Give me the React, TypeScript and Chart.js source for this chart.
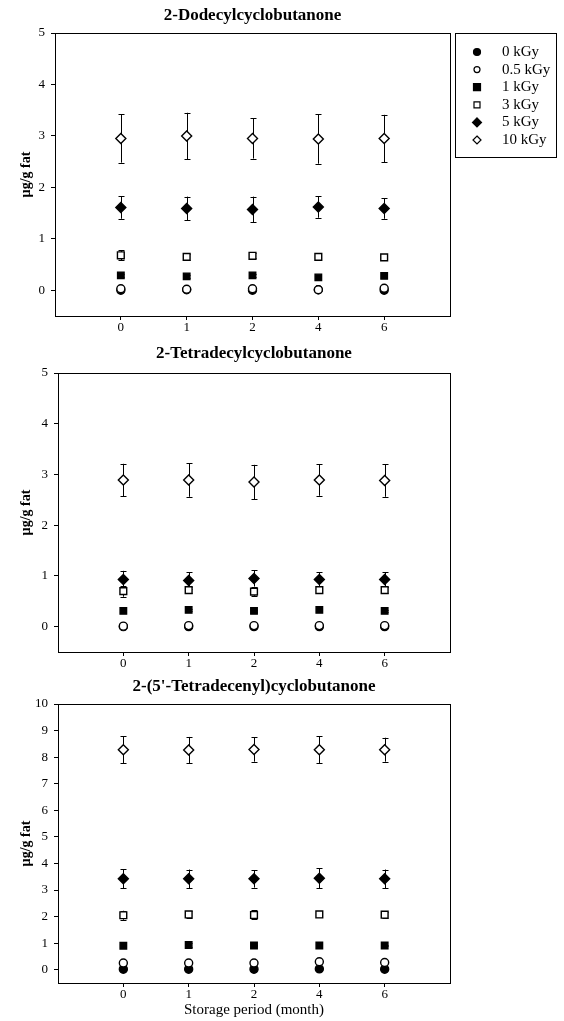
import React, { useEffect, useRef } from 'react';
import { Chart, registerables } from 'chart.js';

Chart.register(...registerables);

// ---------- data ----------
const months = ['0', '1', '2', '4', '6'];
const doses = ['0 kGy', '0.5 kGy', '1 kGy', '3 kGy', '5 kGy', '10 kGy'];

// 2-Dodecylcyclobutanone
const dodecyl0 = [0.0, 0.01, 0.0, 0.01, 0.0];
const dodecyl05 = [0.03, 0.02, 0.03, 0.01, 0.04];
const dodecyl1 = [0.29, 0.27, 0.29, 0.25, 0.28];
const dodecyl3 = [0.68, 0.65, 0.67, 0.65, 0.64];
const dodecyl5 = [1.61, 1.59, 1.57, 1.62, 1.59];
const dodecyl10 = [2.95, 3.0, 2.95, 2.94, 2.95];
const dodecylErr0 = [0.01, 0.01, 0.01, 0.01, 0.01];
const dodecylErr05 = [0.02, 0.02, 0.02, 0.01, 0.02];
const dodecylErr1 = [0.03, 0.03, 0.03, 0.02, 0.03];
const dodecylErr3 = [0.1, 0.06, 0.05, 0.03, 0.05];
const dodecylErr5 = [0.22, 0.23, 0.25, 0.21, 0.2];
const dodecylErr10 = [0.47, 0.45, 0.39, 0.48, 0.46];

// 2-Tetradecylcyclobutanone
const tetradecyl0 = [0.0, 0.0, 0.0, 0.0, 0.0];
const tetradecyl05 = [0.01, 0.02, 0.02, 0.02, 0.02];
const tetradecyl1 = [0.31, 0.33, 0.31, 0.33, 0.31];
const tetradecyl3 = [0.7, 0.72, 0.69, 0.72, 0.72];
const tetradecyl5 = [0.93, 0.91, 0.95, 0.93, 0.93];
const tetradecyl10 = [2.89, 2.89, 2.85, 2.89, 2.88];
const tetradecylErr0 = [0.0, 0.0, 0.0, 0.0, 0.0];
const tetradecylErr05 = [0.01, 0.01, 0.01, 0.01, 0.01];
const tetradecylErr1 = [0.02, 0.02, 0.02, 0.02, 0.02];
const tetradecylErr3 = [0.11, 0.06, 0.08, 0.06, 0.06];
const tetradecylErr5 = [0.17, 0.16, 0.16, 0.14, 0.14];
const tetradecylErr10 = [0.32, 0.33, 0.34, 0.31, 0.32];

// 2-(5'-Tetradecenyl)cyclobutanone
const tetradecenyl0 = [0.02, 0.02, 0.02, 0.03, 0.02];
const tetradecenyl05 = [0.25, 0.25, 0.25, 0.3, 0.27];
const tetradecenyl1 = [0.9, 0.93, 0.91, 0.91, 0.91];
const tetradecenyl3 = [2.05, 2.08, 2.06, 2.08, 2.07];
const tetradecenyl5 = [3.42, 3.42, 3.42, 3.44, 3.42];
const tetradecenyl10 = [8.28, 8.27, 8.29, 8.28, 8.28];
const tetradecenylErr0 = [0.01, 0.01, 0.01, 0.01, 0.01];
const tetradecenylErr05 = [0.02, 0.02, 0.02, 0.02, 0.02];
const tetradecenylErr1 = [0.03, 0.06, 0.03, 0.03, 0.03];
const tetradecenylErr3 = [0.17, 0.12, 0.17, 0.1, 0.12];
const tetradecenylErr5 = [0.36, 0.35, 0.33, 0.37, 0.35];
const tetradecenylErr10 = [0.5, 0.49, 0.46, 0.5, 0.45];

const yTicks5 = [0, 1, 2, 3, 4, 5];
const yTicks10 = [0, 1, 2, 3, 4, 5, 6, 7, 8, 9, 10];

// ---------- styles ----------
const FONT = "'Liberation Serif', 'Times New Roman', serif";
const markerStyles = [
  { pointStyle: 'circle', bg: '#000', r: 4 },
  { pointStyle: 'circle', bg: '#fff', r: 4 },
  { pointStyle: 'rect', bg: '#000', r: 4.6 },
  { pointStyle: 'rect', bg: '#fff', r: 4.8 },
  { pointStyle: 'rectRot', bg: '#000', r: 5 },
  { pointStyle: 'rectRot', bg: '#fff', r: 5 },
];

const errorBarPlugin = {
  id: 'errorBars',
  beforeDatasetsDraw(chart: any) {
    const ctx = chart.ctx;
    const xs = chart.scales.x;
    const ys = chart.scales.y;
    ctx.save();
    ctx.strokeStyle = '#000';
    ctx.lineWidth = 1;
    chart.data.datasets.forEach((ds: any) => {
      const errs: number[] = ds.errors || [];
      ds.data.forEach((p: any, i: number) => {
        const e = errs[i] || 0;
        if (!e) return;
        const x = Math.round(xs.getPixelForValue(p.x)) + 0.5;
        const y1 = ys.getPixelForValue(p.y + e);
        const y2 = ys.getPixelForValue(p.y - e);
        ctx.beginPath();
        ctx.moveTo(x, y1);
        ctx.lineTo(x, y2);
        ctx.moveTo(x - 3, Math.round(y1) + 0.5);
        ctx.lineTo(x + 3, Math.round(y1) + 0.5);
        ctx.moveTo(x - 3, Math.round(y2) + 0.5);
        ctx.lineTo(x + 3, Math.round(y2) + 0.5);
        ctx.stroke();
      });
    });
    ctx.restore();
  },
};

const frameBoxPlugin = {
  id: 'frameBox',
  afterDraw(chart: any) {
    const { left, right, top, bottom } = chart.chartArea;
    const ctx = chart.ctx;
    ctx.save();
    ctx.strokeStyle = '#000';
    ctx.lineWidth = 1;
    ctx.strokeRect(Math.round(left) + 0.5, Math.round(top) + 0.5, Math.round(right - left), Math.round(bottom - top));
    ctx.restore();
  },
};

function drawMarker(ctx: CanvasRenderingContext2D, style: string, bg: string, x: number, y: number, r: number) {
  ctx.beginPath();
  if (style === 'circle') {
    ctx.arc(x, y, r, 0, Math.PI * 2);
  } else if (style === 'rect') {
    ctx.rect(x - r, y - r, 2 * r, 2 * r);
  } else {
    ctx.moveTo(x, y - r);
    ctx.lineTo(x + r, y);
    ctx.lineTo(x, y + r);
    ctx.lineTo(x - r, y);
    ctx.closePath();
  }
  ctx.fillStyle = bg;
  ctx.fill();
  ctx.lineWidth = 1.2;
  ctx.strokeStyle = '#000';
  ctx.stroke();
}

const legendBoxPlugin = {
  id: 'legendBox',
  afterDraw(chart: any) {
    const ctx: CanvasRenderingContext2D = chart.ctx;
    ctx.save();
    ctx.strokeStyle = '#000';
    ctx.lineWidth = 1;
    ctx.strokeRect(455.5, 33.5, 101, 124);
    ctx.font = `15px ${FONT}`;
    ctx.textBaseline = 'middle';
    ctx.textAlign = 'left';
    const sizes = [3.5, 3, 3.5, 3, 4.5, 4];
    chart.data.datasets.forEach((ds: any, i: number) => {
      const y = 52 + i * 17.6;
      const st = markerStyles[i];
      drawMarker(ctx, st.pointStyle, st.bg, 477, y, sizes[i]);
      ctx.fillStyle = '#000';
      ctx.fillText(ds.label, 502, y);
    });
    ctx.restore();
  },
};

type Opts = {
  title: string;
  series: number[][];
  errors: number[][];
  yMax: number;
  yTicks: number[];
  yWidth: number;
  titlePad: { top: number; bottom: number };
  xHeight: number;
  xTitle?: string;
  legend?: boolean;
};

function makeConfig(o: Opts): any {
  const datasets = o.series.map((vals, si) => {
    const st = markerStyles[si];
    return {
      label: doses[si],
      data: vals.map((v, i) => ({ x: i, y: v })),
      errors: o.errors[si],
      pointStyle: st.pointStyle,
      pointRadius: st.r,
      pointBackgroundColor: st.bg,
      pointBorderColor: '#000',
      pointBorderWidth: 1.4,
      showLine: false,
      order: si === 0 ? 1 : 0,
    };
  });
  const plugins: any[] = [errorBarPlugin, frameBoxPlugin];
  if (o.legend) plugins.push(legendBoxPlugin);
  return {
    type: 'scatter',
    data: { datasets },
    plugins,
    options: {
      animation: false,
      responsive: false,
      devicePixelRatio: 1,
      events: [],
      layout: { padding: { left: 14, right: 114, top: 0, bottom: 0 } },
      plugins: {
        legend: { display: false },
        tooltip: { enabled: false },
        title: {
          display: true,
          text: o.title,
          fullSize: false,
          color: '#000',
          font: { family: FONT, size: 17, weight: 'bold', lineHeight: 1.2 },
          padding: o.titlePad,
        },
      },
      scales: {
        x: {
          type: 'linear',
          min: -1,
          max: 5,
          afterBuildTicks: (s: any) => {
            s.ticks = months.map((_, i) => ({ value: i }));
          },
          afterFit: (s: any) => {
            s.height = o.xHeight;
          },
          ticks: {
            callback: (v: number) => months[v] ?? '',
            color: '#000',
            padding: 0,
            maxRotation: 0,
            autoSkip: false,
            font: { family: FONT, size: 13 },
          },
          grid: { drawOnChartArea: false, tickLength: 4, color: '#000' },
          border: { display: true, color: '#000', width: 1 },
          title: o.xTitle
            ? {
                display: true,
                text: o.xTitle,
                color: '#000',
                font: { family: FONT, size: 15 },
                padding: { top: 0, bottom: 2 },
              }
            : { display: false },
        },
        y: {
          type: 'linear',
          min: -0.5,
          max: o.yMax,
          afterBuildTicks: (s: any) => {
            s.ticks = o.yTicks.map((v) => ({ value: v }));
          },
          afterFit: (s: any) => {
            s.width = o.yWidth;
          },
          ticks: {
            color: '#000',
            padding: 6,
            autoSkip: false,
            font: { family: FONT, size: 13 },
          },
          grid: { drawOnChartArea: false, tickLength: 4, color: '#000' },
          border: { display: true, color: '#000', width: 1 },
          title: {
            display: true,
            text: 'µg/g fat',
            color: '#000',
            font: { family: FONT, size: 14, weight: 'bold' },
            padding: { top: 4, bottom: 0 },
          },
        },
      },
    },
  };
}

function ChartCanvas({ config, top, height }: { config: any; top: number; height: number }) {
  const ref = useRef<HTMLCanvasElement>(null);
  useEffect(() => {
    const chart = new Chart(ref.current as HTMLCanvasElement, config);
    return () => chart.destroy();
  }, []);
  return (
    <canvas
      ref={ref}
      width={564}
      height={height}
      style={{ position: 'absolute', left: 0, top, width: 564, height, display: 'block' }}
    />
  );
}

export default function App() {
  const cfg1 = makeConfig({
    title: '2-Dodecylcyclobutanone',
    series: [dodecyl0, dodecyl05, dodecyl1, dodecyl3, dodecyl5, dodecyl10],
    errors: [dodecylErr0, dodecylErr05, dodecylErr1, dodecylErr3, dodecylErr5, dodecylErr10],
    yMax: 5,
    yTicks: yTicks5,
    yWidth: 41,
    titlePad: { top: 5, bottom: 7.6 },
    xHeight: 24,
    legend: true,
  });
  const cfg2 = makeConfig({
    title: '2-Tetradecylcyclobutanone',
    series: [tetradecyl0, tetradecyl05, tetradecyl1, tetradecyl3, tetradecyl5, tetradecyl10],
    errors: [tetradecylErr0, tetradecylErr05, tetradecylErr1, tetradecylErr3, tetradecylErr5, tetradecylErr10],
    yMax: 5,
    yTicks: yTicks5,
    yWidth: 44,
    titlePad: { top: 3, bottom: 9.6 },
    xHeight: 19,
  });
  const cfg3 = makeConfig({
    title: "2-(5'-Tetradecenyl)cyclobutanone",
    series: [tetradecenyl0, tetradecenyl05, tetradecenyl1, tetradecenyl3, tetradecenyl5, tetradecenyl10],
    errors: [tetradecenylErr0, tetradecenylErr05, tetradecenylErr1, tetradecenylErr3, tetradecenylErr5, tetradecenylErr10],
    yMax: 10,
    yTicks: yTicks10,
    yWidth: 44,
    titlePad: { top: 5, bottom: 7.6 },
    xHeight: 38,
    xTitle: 'Storage period (month)',
  });
  return (
    <div style={{ position: 'absolute', left: 0, top: 0, width: 564, height: 1021, background: '#fff' }}>
      <ChartCanvas config={cfg1} top={0} height={340} />
      <ChartCanvas config={cfg2} top={340} height={331} />
      <ChartCanvas config={cfg3} top={671} height={350} />
    </div>
  );
}
